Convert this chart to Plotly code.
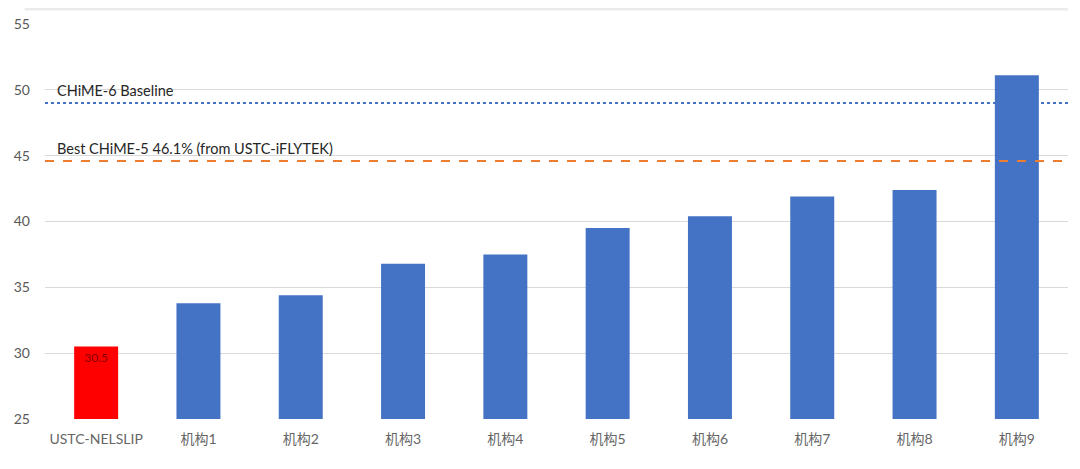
import plotly.graph_objects as go

# values
categories = ["USTC-NELSLIP", "机构1", "机构2", "机构3", "机构4", "机构5", "机构6", "机构7", "机构8", "机构9"]
wer = [30.5, 33.8, 34.4, 36.8, 37.5, 39.5, 40.4, 41.9, 42.4, 51.1]
bar_colors = ["#FF0000"] + ["#4472C4"] * 9
bar_text = ["30.5"] + [""] * 9

chime6_baseline = 49.0
best_chime5 = 44.6
y_ticks = [25, 30, 35, 40, 45, 50, 55]

FONT = "Lato, 'Noto Sans CJK SC', sans-serif"

fig = go.Figure()
fig.add_trace(go.Bar(
    x=categories, y=wer, marker=dict(color=bar_colors, line=dict(width=0)),
    width=0.43, text=bar_text, textposition="inside", insidetextanchor="end",
    textfont=dict(color="#8B0000", size=12, family=FONT), showlegend=False,
))

# CHiME-6 baseline: dotted blue, drawn behind the bars
fig.add_shape(type="line", xref="paper", x0=0, x1=1, y0=chime6_baseline, y1=chime6_baseline,
              line=dict(color="#4472C4", width=2, dash="dot"), layer="between")
# Best CHiME-5: dashed orange, drawn over the bars
fig.add_shape(type="line", xref="paper", x0=0, x1=1, y0=best_chime5, y1=best_chime5,
              line=dict(color="#ED7D31", width=2, dash="dash"), layer="above")
# faint frame line at the top of the picture
fig.add_shape(type="line", xref="paper", yref="paper", x0=-0.02, x1=1.0, y0=1.038, y1=1.038,
              line=dict(color="#EBEBEB", width=3))

fig.add_annotation(x=0.01, xref="paper", y=chime6_baseline, yshift=2, text="CHiME-6 Baseline",
                   showarrow=False, xanchor="left", yanchor="bottom",
                   font=dict(size=14.5, color="#262626", family=FONT))
fig.add_annotation(x=0.01, xref="paper", y=best_chime5, yshift=2,
                   text="Best CHiME-5 46.1% (from USTC-iFLYTEK)",
                   showarrow=False, xanchor="left", yanchor="bottom",
                   font=dict(size=14.5, color="#262626", family=FONT))

# the page body adds an 8px margin, so the figure is sized to stay inside the window
fig.update_layout(
    width=1064, height=453,
    margin=dict(l=37, r=4, t=16, b=42),
    paper_bgcolor="white", plot_bgcolor="white",
    font=dict(family=FONT, color="#595959", size=13),
    bargap=0.57,
)
fig.update_xaxes(showgrid=False, showline=False, ticks="", ticklabelstandoff=10,
                 tickfont=dict(size=14, color="#666666"))
fig.update_yaxes(range=[25, 55], tickvals=y_ticks, showgrid=True, gridcolor="#D9D9D9", gridwidth=1,
                 zeroline=False, showline=False, ticks="", ticklabelstandoff=14,
                 tickfont=dict(size=14, color="#595959"))

fig.write_html("out.html")
